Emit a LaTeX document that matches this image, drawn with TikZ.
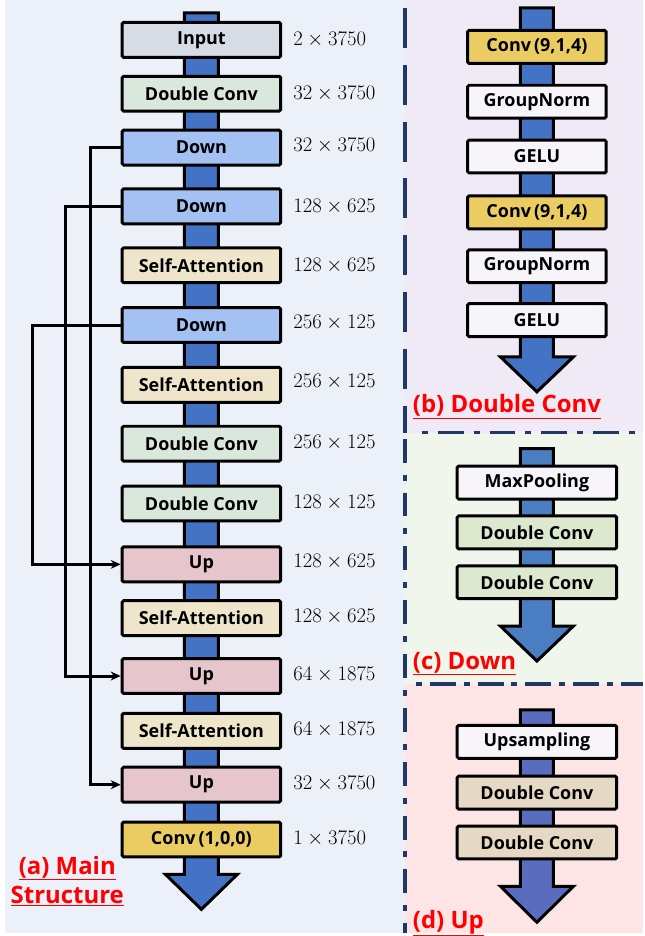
\documentclass[tikz,border=0pt]{standalone}
\usepackage{fontspec}
\setsansfont{Open Sans}
\usetikzlibrary{arrows.meta}

\definecolor{spineblue}{HTML}{4472C4}
\definecolor{spinedown}{HTML}{4A7DC2}
\definecolor{spineup}{HTML}{5A6CBE}
\definecolor{inputgray}{HTML}{D6DCE5}
\definecolor{dcgreen}{HTML}{D9E7DC}
\definecolor{downblue}{HTML}{A3C1F2}
\definecolor{attnbeige}{HTML}{EEE5CB}
\definecolor{uppink}{HTML}{E6C5CD}
\definecolor{convgold}{HTML}{EACC63}
\definecolor{plainwhite}{HTML}{F8F5FA}
\definecolor{downdc}{HTML}{DCE9CF}
\definecolor{updc}{HTML}{E5D8C4}
\definecolor{panela}{HTML}{EBF0F9}
\definecolor{panelb}{HTML}{EFEAF5}
\definecolor{panelc}{HTML}{F0F6EC}
\definecolor{paneld}{HTML}{FDE5E5}
\definecolor{framenavy}{HTML}{1F3864}
\definecolor{tagred}{HTML}{FF0000}

\tikzset{
  blk/.style={draw, line width=3pt, rounded corners=1.5pt, inner sep=0pt,
    minimum height=35pt, font=\sffamily\bfseries\fontsize{18}{18}\selectfont},
  mainblk/.style={blk, minimum width=159pt},
  subblk/.style={blk, minimum width=139pt, minimum height=33pt},
  wideblk/.style={blk, minimum width=160pt, minimum height=33pt},
  dim/.style={anchor=west, inner sep=0pt, font=\fontsize{20}{20}\selectfont},
  tag/.style={text=tagred, inner sep=0pt, font=\sffamily\bfseries\fontsize{24}{24}\selectfont},
  skip/.style={line width=3pt, -{Stealth[length=10pt,width=9pt]}},
  flow/.style={line width=3pt},
  frame/.style={framenavy, line width=3.5pt},
}

\begin{document}
\begin{tikzpicture}[x=1pt,y=-1pt]
        \fill[white] (0,0) rectangle (645,936);
        \fill[panela] (5,0) rectangle (406,936);
        \fill[panelb] (406,0) rectangle (645,434);
        \fill[panelc] (406,434) rectangle (645,686);
        \fill[paneld] (406,686) rectangle (645,936);

        \draw[frame, dash pattern=on 40pt off 17pt] (406,8) -- (406,434);
        \draw[frame, dash pattern=on 24pt off 12pt on 6pt off 12pt] (406,440) -- (406,936);
        \draw[frame, dash pattern=on 6pt off 10pt on 26pt off 10pt] (423,434) -- (645,434);
        \draw[frame, dash pattern=on 6pt off 8pt on 26pt off 8pt] (417,686) -- (645,686);

        % (a) main structure
        \filldraw[flow, fill=spineblue] (185,13) -- (219,13) -- (219,877) -- (238,877)
            -- (202,912) -- (166,877) -- (185,877) -- cycle;

        \node[mainblk, fill=inputgray] (input) at (202,40) {Input};
        \node[mainblk, fill=dcgreen] (dc1) at (202,94) {Double Conv};
        \node[mainblk, fill=downblue] (down1) at (202,148) {Down};
        \node[mainblk, fill=downblue] (down2) at (202,207) {Down};
        \node[mainblk, fill=attnbeige] (sa1) at (202,266) {Self-Attention};
        \node[mainblk, fill=downblue] (down3) at (202,326) {Down};
        \node[mainblk, fill=attnbeige] (sa2) at (202,386) {Self-Attention};
        \node[mainblk, fill=dcgreen] (dc2) at (202,445) {Double Conv};
        \node[mainblk, fill=dcgreen] (dc3) at (202,505) {Double Conv};
        \node[mainblk, fill=uppink] (up1) at (202,566) {Up};
        \node[mainblk, fill=attnbeige] (sa3) at (202,620) {Self-Attention};
        \node[mainblk, fill=uppink] (up2) at (202,678) {Up};
        \node[mainblk, fill=attnbeige] (sa4) at (202,733) {Self-Attention};
        \node[mainblk, fill=uppink] (up3) at (202,787) {Up};
        \node[mainblk, fill=convgold] (out) at (202,842) {Conv\,(1,0,0)};

        \node[dim] (dinput) at (294,40) {$2\times3750$};
        \node[dim] (ddc1) at (294,94) {$32\times3750$};
        \node[dim] (ddown1) at (294,146) {$32\times3750$};
        \node[dim] (ddown2) at (294,207) {$128\times625$};
        \node[dim] (dsa1) at (294,266) {$128\times625$};
        \node[dim] (ddown3) at (294,324) {$256\times125$};
        \node[dim] (dsa2) at (294,383) {$256\times125$};
        \node[dim] (ddc2) at (294,444) {$256\times125$};
        \node[dim] (ddc3) at (294,504) {$128\times125$};
        \node[dim] (dup1) at (294,563) {$128\times625$};
        \node[dim] (dsa3) at (294,619) {$128\times625$};
        \node[dim] (dup2) at (294,677) {$64\times1875$};
        \node[dim] (dsa4) at (294,732) {$64\times1875$};
        \node[dim] (dup3) at (294,786) {$32\times3750$};
        \node[dim] (dout) at (294,841) {$1\times3750$};

        \draw[skip] (down1.west) -- ++(-30,0) |- (up3.west);
        \draw[skip] (down2.west) -- ++(-55,0) |- (up2.west);
        \draw[skip] (down3.west) -- ++(-88,0) |- (up1.west);

        \node[tag, anchor=base] (taga) at (67.5,877) {\underline{(a) Main}};
        \node[tag, anchor=base] (tagas) at (67.5,906) {\underline{Structure}};

        % (b) double conv
        \filldraw[flow, fill=spineblue] (522,8) -- (555,8) -- (555,358) -- (575,358)
            -- (538.5,393) -- (502,358) -- (522,358) -- cycle;
        \node[subblk, fill=convgold] (bconv1) at (538.5,47) {Conv\,(9,1,4)};
        \node[subblk, fill=plainwhite] (bnorm1) at (538.5,102) {GroupNorm};
        \node[subblk, fill=plainwhite] (bgelu1) at (538.5,157) {GELU};
        \node[subblk, fill=convgold] (bconv2) at (538.5,213) {Conv\,(9,1,4)};
        \node[subblk, fill=plainwhite] (bnorm2) at (538.5,267) {GroupNorm};
        \node[subblk, fill=plainwhite] (bgelu2) at (538.5,321) {GELU};
        \node[tag, anchor=base west] (tagb) at (414,414) {\underline{(b) Double Conv}};

        % (c) down
        \filldraw[flow, fill=spinedown] (522,450) -- (555,450) -- (555,628) -- (575,628)
            -- (538.5,663) -- (502,628) -- (522,628) -- cycle;
        \node[wideblk, fill=plainwhite] (cpool) at (538.5,484) {MaxPooling};
        \node[wideblk, fill=downdc] (cdc1) at (538.5,534) {Double Conv};
        \node[wideblk, fill=downdc] (cdc2) at (538.5,584) {Double Conv};
        \node[tag, anchor=base west] (tagc) at (414,671) {\underline{(c) Down}};

        % (d) up
        \filldraw[flow, fill=spineup] (522,712) -- (555,712) -- (555,889) -- (575,889)
            -- (538.5,925) -- (502,889) -- (522,889) -- cycle;
        \node[wideblk, fill=plainwhite] (dups) at (538.5,744) {Upsampling};
        \node[wideblk, fill=updc] (ddc1) at (538.5,795) {Double Conv};
        \node[wideblk, fill=updc] (ddc2) at (538.5,845) {Double Conv};
        \node[tag, anchor=base west] (tagd) at (414,931) {\underline{(d) Up}};
\end{tikzpicture}
\end{document}
